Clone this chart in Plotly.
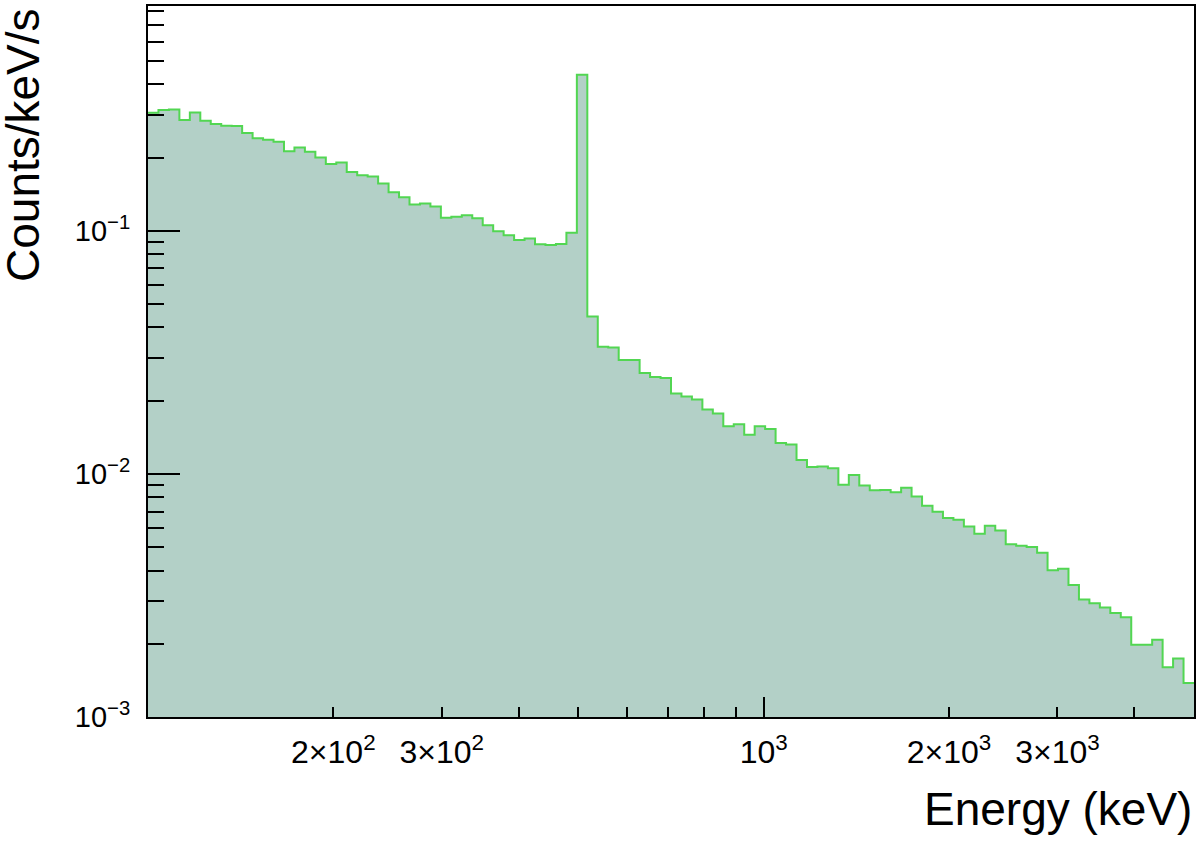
import numpy as np
import plotly.graph_objects as go

# Histogram binning: 100 log-spaced bins from 100 keV to 5000 keV
E_MIN, E_MAX, N_BINS = 100.0, 5000.0, 100
edges = np.logspace(np.log10(E_MIN), np.log10(E_MAX), N_BINS + 1)

# Counts/keV/s per bin
rate = [
    0.3057, 0.3136, 0.3155, 0.2854, 0.3067, 0.2835, 0.2748, 0.2704, 0.2697, 0.2524,
    0.2399, 0.2369, 0.2325, 0.2121, 0.2197, 0.2115, 0.1999, 0.1883, 0.1907, 0.1746,
    0.1691, 0.1670, 0.1563, 0.1440, 0.1374, 0.1282, 0.1294, 0.1258, 0.1130, 0.1141,
    0.1159, 0.1126, 0.1054, 0.0996, 0.0959, 0.0915, 0.0930, 0.0879, 0.0873, 0.0881,
    0.0981, 0.4380, 0.0444, 0.0333, 0.0331, 0.0294, 0.0294, 0.0260, 0.0250, 0.0248,
    0.0214, 0.0208, 0.0202, 0.0184, 0.0177, 0.0157, 0.0160, 0.0145, 0.0157, 0.0153,
    0.0134, 0.0132, 0.0114, 0.01068, 0.01072, 0.01055, 0.00902, 0.00989, 0.00895, 0.00857,
    0.00859, 0.00841, 0.00876, 0.00807, 0.00739, 0.00698, 0.00658, 0.00648, 0.00608, 0.00567,
    0.00612, 0.00585, 0.00513, 0.00506, 0.00500, 0.00474, 0.00401, 0.00407, 0.00349, 0.00304,
    0.00294, 0.00282, 0.00268, 0.00257, 0.00198, 0.00198, 0.00208, 0.00160, 0.00174, 0.00138,
]

# Axis ticks
x_tick_vals = [200, 300, 1000, 2000, 3000]
x_tick_text = ["2×10<sup>2</sup>", "3×10<sup>2</sup>", "10<sup>3</sup>",
               "2×10<sup>3</sup>", "3×10<sup>3</sup>"]
x_minor_vals = [400, 500, 600, 700, 800, 900, 4000]
x_major_vals = [100, 1000]
y_tick_vals = [1e-3, 1e-2, 1e-1]
y_tick_text = ["10<sup>−3</sup>", "10<sup>−2</sup>", "10<sup>−1</sup>"]
y_minor_vals = [m * d for d in (1e-3, 1e-2, 1e-1) for m in range(2, 10)]

Y_MIN, Y_MAX = 1e-3, 0.84

FONT = "Liberation Sans, Arial, Helvetica, sans-serif"
FILL = "#b3d0c7"
LINE = "#52d652"

x_step = list(edges)
y_step = list(rate) + [rate[-1]]

fig = go.Figure()
fig.add_trace(go.Scatter(
    x=x_step, y=y_step, mode="lines", line=dict(shape="hv", color=LINE, width=2),
    fill="tozeroy", fillcolor=FILL, hoverinfo="skip", showlegend=False,
))
# invisible trace on the overlay axis to hold long major x ticks
fig.add_trace(go.Scatter(x=[E_MIN, E_MAX], y=[Y_MIN, Y_MIN], xaxis="x2", mode="lines",
                         line=dict(width=0), hoverinfo="skip", showlegend=False))

fig.update_layout(
    width=1200, height=850,
    margin=dict(l=148, r=4, t=4, b=133),
    paper_bgcolor="white", plot_bgcolor="white",
    font=dict(family=FONT, color="black"),
    xaxis=dict(
        type="log", range=[np.log10(E_MIN), np.log10(E_MAX)],
        tickmode="array", tickvals=x_tick_vals, ticktext=x_tick_text,
        ticks="inside", ticklen=10, tickwidth=2, tickcolor="black",
        minor=dict(tickmode="array", tickvals=x_minor_vals, ticks="inside",
                   ticklen=10, tickwidth=2, tickcolor="black", showgrid=False),
        showline=True, linecolor="black", linewidth=2, mirror=True,
        showgrid=False, zeroline=False,
        tickfont=dict(size=32, family=FONT), ticklabelstandoff=6,
    ),
    xaxis2=dict(
        type="log", range=[np.log10(E_MIN), np.log10(E_MAX)], overlaying="x",
        tickmode="array", tickvals=x_major_vals, ticks="inside", ticklen=20,
        tickwidth=2, tickcolor="black", showticklabels=False, showgrid=False,
        zeroline=False, showline=False, anchor="y", side="bottom",
    ),
    yaxis=dict(
        type="log", range=[np.log10(Y_MIN), np.log10(Y_MAX)],
        tickmode="array", tickvals=y_tick_vals, ticktext=y_tick_text,
        ticks="inside", ticklen=32, tickwidth=2, tickcolor="black",
        minor=dict(tickmode="array", tickvals=y_minor_vals, ticks="inside",
                   ticklen=16, tickwidth=2, tickcolor="black", showgrid=False),
        showline=True, linecolor="black", linewidth=2, mirror=True,
        showgrid=False, zeroline=False,
        tickfont=dict(size=29, family=FONT), ticklabelstandoff=10,
    ),
    annotations=[
        dict(text="Energy (keV)", xref="paper", yref="paper", x=1, y=0,
             xanchor="right", yanchor="middle", yshift=-92, showarrow=False,
             font=dict(size=46, family=FONT)),
        dict(text="Counts/keV/s", xref="paper", yref="paper", x=0, y=1,
             xanchor="center", yanchor="top", xshift=-125, showarrow=False,
             textangle=-90, font=dict(size=46, family=FONT)),
    ],
)

fig.write_html("out.html", post_script="document.body.style.margin='0';",
               config={"displayModeBar": False})
